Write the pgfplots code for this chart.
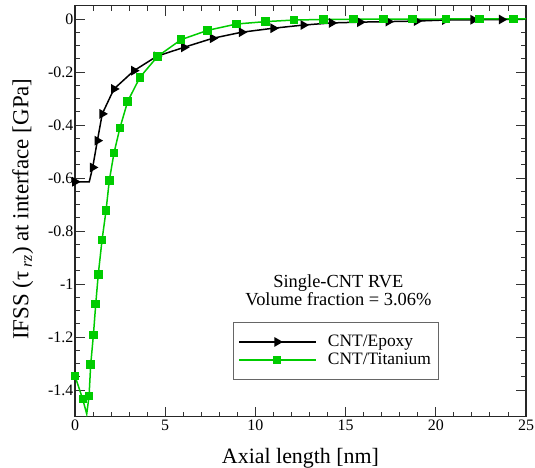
\documentclass[border=0pt]{standalone}
\usepackage{fontspec}
\setmainfont{Liberation Serif}
\usepackage{pgfplots}
\usepackage{pgfplotstable}
\pgfplotsset{compat=1.18}
\definecolor{cntgreen}{RGB}{0,204,0}

\pgfplotstableread{
x y
0 -0.614
0.79 -0.614
0.98 -0.560
1.24 -0.459
1.51 -0.358
2.16 -0.264
3.27 -0.195
4.53 -0.141
6.04 -0.107
7.63 -0.073
9.24 -0.050
10.99 -0.035
12.66 -0.023
14.23 -0.015
15.80 -0.012
17.37 -0.010
18.94 -0.008
20.51 -0.004
22.08 -0.003
23.65 -0.002
25 -0.001
}\epoxy

\pgfplotstableread{
x y
0 -1.346
0.43 -1.434
0.65 -1.49
0.78 -1.421
0.87 -1.304
1.02 -1.192
1.15 -1.075
1.29 -0.963
1.50 -0.833
1.72 -0.723
1.90 -0.610
2.16 -0.506
2.49 -0.411
2.92 -0.311
3.60 -0.220
4.58 -0.141
5.88 -0.078
7.35 -0.043
8.96 -0.019
10.57 -0.010
12.15 -0.004
13.77 -0.002
15.43 -0.001
17.09 -0.001
18.72 -0.001
20.57 0
22.41 0
24.3 0
25 0
}\titanium

\begin{document}
\begin{tikzpicture}
\begin{axis}[name=ax, scale only axis, width=451bp, height=411bp,
  xmin=0, xmax=25, ymin=-1.5, ymax=0.05,
  xtick={0,5,10,15,20,25},
  ytick={-1.4,-1.2,-1,-0.8,-0.6,-0.4,-0.2,0},
  minor x tick num=4, minor y tick num=3,
  tick align=inside, major tick length=10bp, minor tick length=5bp,
  tick style={line width=0.9bp, black!80},
  axis line style={line width=1.2bp, black!85},
  /pgf/number format/assume math mode=true,
  ticklabel style={font=\fontsize{16}{18}\selectfont},
  yticklabel style={inner xsep=1.5bp},
  xlabel={Axial length [nm]},
  ylabel={IFSS (τ\,\textsubscript{\textit{rz}}) at interface [GPa]},
  xlabel style={font=\fontsize{22}{25}\selectfont, at={(axis description cs:0.5,-0.113)}, anchor=base},
  ylabel style={font=\fontsize{23}{26}\selectfont, at={(axis description cs:-0.085,0.505)}, anchor=south},
  legend style={at={(axis cs:8.76,-1.143)}, anchor=north west, draw=black!60, line width=0.8bp,
    font=\fontsize{17.5}{20}\selectfont, inner xsep=5bp, inner ysep=11bp, row sep=1bp,
    cells={anchor=west}},
  legend image code/.code={\draw[#1, line width=1.5bp, mark indices={2}] plot coordinates {(0bp,0bp) (38bp,0bp) (77bp,0bp)}; \path (86bp,0bp);},
]
\addplot[black, line width=1.5bp, mark=triangle*, mark size=4.2bp,
  mark options={rotate=-90, solid}, mark indices={1,3,4,5,6,7,8,9,10,11,12,13,14,15,16,17,18,19,20}]
  table {\epoxy};
\addlegendentry{CNT/Epoxy}
\addplot[cntgreen, line width=1.5bp, mark=square*, mark size=3.5bp,
  mark indices={1,2,4,5,6,7,8,9,10,11,12,13,14,15,16,17,18,19,20,21,22,23,24,25,26,27,28}]
  table {\titanium};
\addlegendentry{CNT/Titanium}
\node[align=center, font=\fontsize{18.5}{18.5}\selectfont] at (axis cs:14.6,-1.023)
  {Single-CNT RVE\\Volume fraction = 3.06\%};
\end{axis}
\pgfresetboundingbox
\path ([shift={(-75bp,-51.3bp)}]ax.south west) rectangle ([shift={(9bp,5.7bp)}]ax.north east);
\end{tikzpicture}
\end{document}
